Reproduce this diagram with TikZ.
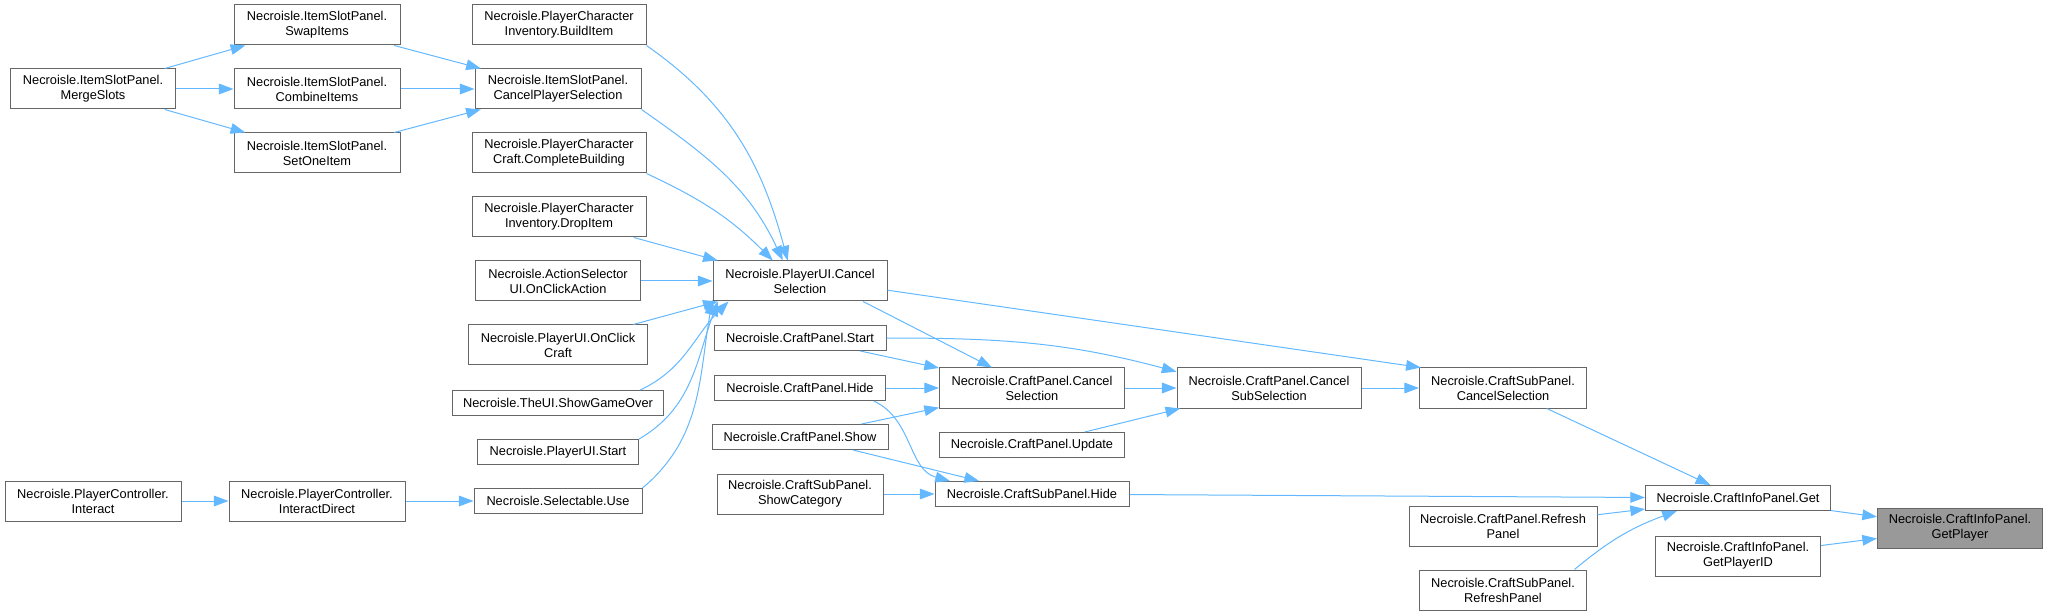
\documentclass[tikz,border=0pt]{standalone}
\usepackage{fontspec}
\setmainfont{Liberation Sans}
\usepackage{tikz}
\usetikzlibrary{arrows.meta}
\definecolor{edgeblue}{HTML}{63B8FF}
\definecolor{boxgray}{HTML}{666666}
\definecolor{focusgray}{HTML}{999999}

\begin{document}
\begin{tikzpicture}[x=0.75pt, y=0.75pt,
    fn/.style={draw=boxgray, line width=0.75pt, fill=white, align=center,
        inner xsep=2pt, inner ysep=2pt, minimum height=18.75pt,
        font=\fontsize{9.6pt}{11.25pt}\selectfont},
    fn2/.style={fn, minimum height=30pt},
    wd/.style={minimum width=#1*0.75pt},
    focus/.style={fill=focusgray},
    call/.style={-{Triangle[length=11pt,width=8pt]}, edgeblue, line width=0.75pt}]
    \useasboundingbox (0,0) rectangle (2048,-616);

    % ItemSlotPanel
    \node[fn2, wd=165] (merge) at (93,-89) {Necroisle.ItemSlotPanel.\\MergeSlots};
    \node[fn2, wd=166] (swap) at (317,-25) {Necroisle.ItemSlotPanel.\\SwapItems};
    \node[fn2, wd=166] (combine) at (317,-89) {Necroisle.ItemSlotPanel.\\CombineItems};
    \node[fn2, wd=166] (setone) at (317,-153) {Necroisle.ItemSlotPanel.\\SetOneItem};

    % PlayerController
    \node[fn2, wd=176] (interact) at (93,-501) {Necroisle.PlayerController.\\Interact};
    \node[fn2, wd=176] (idirect) at (317,-501) {Necroisle.PlayerController.\\InteractDirect};

    % PlayerUI.CancelSelection 的调用者
    \node[fn2, wd=174] (build) at (559,-25) {Necroisle.PlayerCharacter\\Inventory.BuildItem};
    \node[fn2, wd=166] (cps) at (558,-89) {Necroisle.ItemSlotPanel.\\CancelPlayerSelection};
    \node[fn2, wd=174] (complete) at (559,-153) {Necroisle.PlayerCharacter\\Craft.CompleteBuilding};
    \node[fn2, wd=174] (drop) at (559,-217) {Necroisle.PlayerCharacter\\Inventory.DropItem};
    \node[fn2, wd=165] (action) at (558,-281) {Necroisle.ActionSelector\\UI.OnClickAction};
    \node[fn2, wd=179] (onclick) at (558,-345) {Necroisle.PlayerUI.OnClick\\Craft};
    \node[fn, wd=211] (gameover) at (558,-403) {Necroisle.TheUI.ShowGameOver};
    \node[fn, wd=161] (uistart) at (558,-452) {Necroisle.PlayerUI.Start};
    \node[fn, wd=168] (use) at (558,-501) {Necroisle.Selectable.Use};
    \node[fn2, wd=174] (uicancel) at (800,-281) {Necroisle.PlayerUI.Cancel\\Selection};

    % CraftPanel
    \node[fn, wd=172] (cpstart) at (800,-338) {Necroisle.CraftPanel.Start};
    \node[fn, wd=171] (cphide) at (800,-388) {Necroisle.CraftPanel.Hide};
    \node[fn, wd=176] (cpshow) at (800,-437) {Necroisle.CraftPanel.Show};
    \node[fn2, wd=166] (showcat) at (800,-494) {Necroisle.CraftSubPanel.\\ShowCategory};
    \node[fn2, wd=185] (cpcancel) at (1032,-388) {Necroisle.CraftPanel.Cancel\\Selection};
    \node[fn, wd=185] (cpupdate) at (1032,-445) {Necroisle.CraftPanel.Update};
    \node[fn, wd=194] (cshide) at (1032,-494) {Necroisle.CraftSubPanel.Hide};
    \node[fn2, wd=184] (cpsub) at (1269,-388) {Necroisle.CraftPanel.Cancel\\SubSelection};

    % CraftInfoPanel
    \node[fn2, wd=167] (cscancel) at (1503,-388) {Necroisle.CraftSubPanel.\\CancelSelection};
    \node[fn2, wd=188] (cprefresh) at (1503,-526) {Necroisle.CraftPanel.Refresh\\Panel};
    \node[fn2, wd=167] (csrefresh) at (1503,-590) {Necroisle.CraftSubPanel.\\RefreshPanel};
    \node[fn, wd=185] (get) at (1738,-498) {Necroisle.CraftInfoPanel.Get};
    \node[fn2, wd=165] (getid) at (1738,-556) {Necroisle.CraftInfoPanel.\\GetPlayerID};
    \node[fn2, wd=165, focus] (getplayer) at (1960,-528) {Necroisle.CraftInfoPanel.\\GetPlayer};

    % 调用关系
    \draw[call] (merge) -- (swap);
    \draw[call] (merge) -- (combine);
    \draw[call] (merge) -- (setone);
    \draw[call] (swap) -- (cps);
    \draw[call] (combine) -- (cps);
    \draw[call] (setone) -- (cps);
    \draw[call] (interact) -- (idirect);
    \draw[call] (idirect) -- (use);

    \draw[call] (build.south east) to[out=-35, in=105] (uicancel.121);
    \draw[call] (cps.south east) to[out=-35, in=115] (uicancel.130);
    \draw[call] (complete.south east) to[out=-25, in=135] (uicancel.143);
    \draw[call] (drop) -- (uicancel.166);
    \draw[call] (action) -- (uicancel);
    \draw[call] (onclick) -- (uicancel.194);
    \draw[call] (gameover.9) to[out=25, in=225] (uicancel.196);
    \draw[call] (uistart.north east) to[out=30, in=250] (uicancel.194);
    \draw[call] (use.north east) to[out=40, in=260] (uicancel.192);

    \draw[call] (uicancel.-18) -- (cpcancel);
    \draw[call] (uicancel.-6) -- (cscancel.166);
    \draw[call] (cpstart) -- (cpcancel);
    \draw[call] (cpstart.east) to[out=0, in=165] (cpsub.170);
    \draw[call] (cphide) -- (cpcancel);
    \draw[call] (cphide.-10) to[out=-25, in=165] (cshide.171);
    \draw[call] (cpshow) -- (cpcancel);
    \draw[call] (cpshow) -- (cshide);
    \draw[call] (showcat) -- (cshide);
    \draw[call] (cpcancel) -- (cpsub);
    \draw[call] (cpupdate) -- (cpsub.193);
    \draw[call] (cpsub) -- (cscancel);

    \draw[call] (cscancel) -- (get);
    \draw[call] (cshide) -- (get);
    \draw[call] (cprefresh) -- (get);
    \draw[call] (csrefresh.16) to[out=40, in=200] (get.192);
    \draw[call] (get) -- (getplayer);
    \draw[call] (getid) -- (getplayer);
\end{tikzpicture}
\end{document}
